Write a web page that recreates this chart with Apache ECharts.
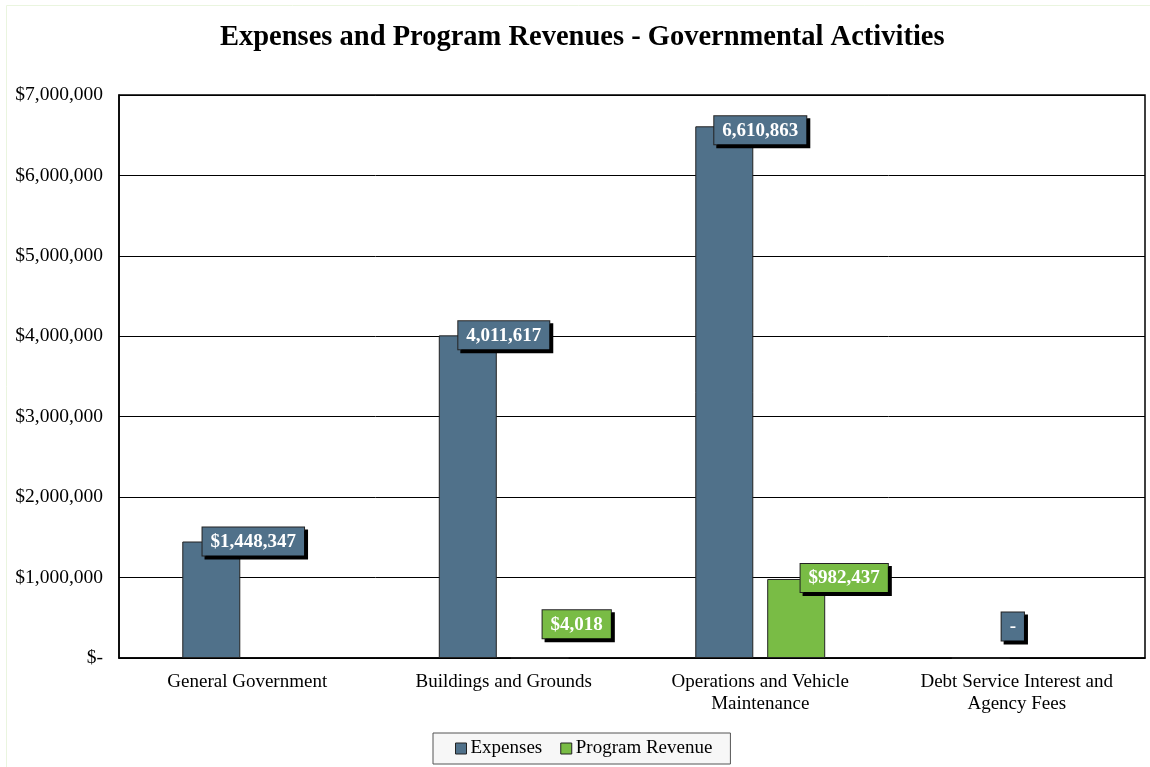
<!DOCTYPE html>
<html>
<head>
<meta charset="utf-8">
<script src="https://cdn.jsdelivr.net/npm/echarts@6/dist/echarts.min.js"></script>
<style>
  html, body { margin: 0; padding: 0; background: #fff; }
  #chart { width: 1150px; height: 767px; }
</style>
</head>
<body>
<div id="chart"></div>
<script>
// data
var categories = ['General Government', 'Buildings and Grounds', 'Operations and Vehicle\nMaintenance', 'Debt Service Interest and\nAgency Fees'];
var expenses = [1448347, 4011617, 6610863, 0];
var programRevenue = [null, 4018, 982437, null];
var expensePrefix = ['$', '', '', ''];
var revenuePrefix = ['$', '$', '$', '$'];
var yTicks = [0, 1000000, 2000000, 3000000, 4000000, 5000000, 6000000, 7000000];

// label offsets (excel labels were dragged by hand)
var expenseOffsets = [[42, 14], [36, 14], [36, 18], [32, -17]];
var revenueOffsets = [[0, 0], [37, -19], [48, 13], [0, 0]];

var FONT = '"Liberation Serif", "Times New Roman", serif';
var colExp = '#50718A';
var colRev = '#79BC45';

function fmt(v, prefix) {
    if (v === 0) return '-';
    return prefix + v.toString().replace(/\B(?=(\d{3})+(?!\d))/g, ',');
}

function labelBase(bg) {
    return {
        show: true,
        position: 'top',
        distance: 0,
        color: '#fff',
        fontFamily: FONT,
        fontWeight: 'bold',
        fontSize: 19,
        backgroundColor: bg,
        borderColor: '#222',
        borderWidth: 1,
        padding: [5, 8, 4, 8],
        shadowColor: '#000',
        shadowOffsetX: 3,
        shadowOffsetY: 3,
        shadowBlur: 0
    };
}

var expData = expenses.map(function (v, i) {
    return {
        value: v,
        label: {
            offset: expenseOffsets[i],
            formatter: fmt(v, expensePrefix[i])
        }
    };
});

var revData = programRevenue.map(function (v, i) {
    if (v === null) return {value: null, label: {show: false}};
    return {
        value: v,
        label: {
            offset: revenueOffsets[i],
            formatter: fmt(v, revenuePrefix[i])
        }
    };
});

var chart = echarts.init(document.getElementById('chart'));
chart.setOption({
    animation: false,
    // faint outer frame of the excel chart area
    graphic: [
        {type: 'polyline', silent: true, shape: {points: [[6.5, 767], [6.5, 5.5], [1150, 5.5]]},
         style: {stroke: '#eaf5df', lineWidth: 1, fill: null}}
    ],
    title: {
        text: 'Expenses and Program Revenues - Governmental Activities',
        left: 215,
        top: 18,
        textStyle: {fontFamily: FONT, fontWeight: 'bold', fontSize: 28.5, color: '#000'}
    },
    legend: {
        bottom: 3,
        left: 433,
        data: ['Expenses', 'Program Revenue'],
        icon: 'rect',
        itemWidth: 11,
        itemHeight: 11,
        itemGap: 18,
        padding: [6, 18, 6, 22],
        backgroundColor: '#f7f7f7',
        borderColor: '#555',
        borderWidth: 1,
        borderRadius: 0,
        itemStyle: {borderColor: '#222', borderWidth: 1},
        textStyle: {fontFamily: FONT, fontSize: 19, color: '#000', padding: [0, 0, 0, -1]}
    },
    grid: {left: 119, right: 5, top: 95, bottom: 109, show: true, borderColor: '#000', borderWidth: 1.5},
    xAxis: {
        type: 'category',
        data: categories,
        axisLine: {lineStyle: {color: '#000', width: 1.5}},
        axisTick: {show: false},
        axisLabel: {fontFamily: FONT, fontSize: 19, color: '#000', margin: 13, lineHeight: 22, interval: 0}
    },
    yAxis: {
        type: 'value',
        min: yTicks[0],
        max: yTicks[yTicks.length - 1],
        interval: 1000000,
        axisLine: {show: true, lineStyle: {color: '#000', width: 1.5}},
        axisTick: {show: false},
        splitLine: {lineStyle: {color: '#000', width: 1}},
        axisLabel: {
            fontFamily: FONT, fontSize: 19.5, color: '#000', margin: 16,
            formatter: function (v) { return v === 0 ? '$-' : fmt(v, '$'); }
        }
    },
    series: [
        {
            name: 'Expenses',
            type: 'bar',
            barWidth: 58,
            barGap: '24%',
            data: expData,
            itemStyle: {color: colExp, borderColor: '#222', borderWidth: 1},
            label: labelBase(colExp)
        },
        {
            name: 'Program Revenue',
            type: 'bar',
            barWidth: 58,
            data: revData,
            itemStyle: {color: colRev, borderColor: '#222', borderWidth: 1},
            label: labelBase(colRev)
        }
    ]
});
</script>
</body>
</html>
